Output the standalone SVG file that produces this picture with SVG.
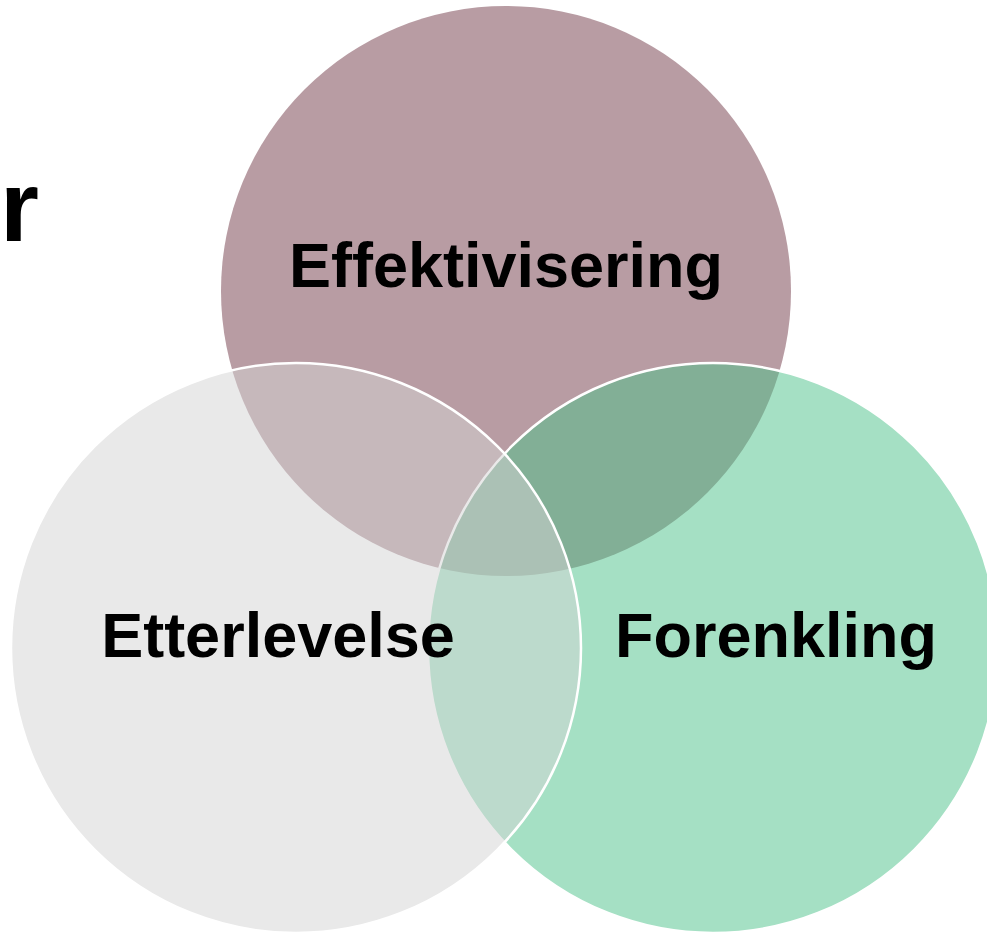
<svg xmlns="http://www.w3.org/2000/svg" width="987" height="934" viewBox="0 0 987 934">
  <style>
    .lbl { font-family: "Liberation Sans", Arial, sans-serif; font-weight: bold; font-size: 63px; fill: #000; text-anchor: middle; }
    .ring { stroke: #ffffff; stroke-width: 2.5; }
  </style>
  <rect width="987" height="934" fill="#ffffff"/>
  <text x="0" y="241" style="font-family: 'Liberation Sans', Arial, sans-serif; font-weight: bold; font-size: 100px; fill: #000;">r</text>
  <g id="effektivisering">
    <circle cx="506" cy="291" r="285" fill="#b89ca3"/>
  </g>
  <g id="forenkling">
    <circle class="ring" cx="713" cy="648" r="285" fill="#4bc189" fill-opacity="0.5"/>
  </g>
  <g id="etterlevelse">
    <circle class="ring" cx="296" cy="648" r="285" fill="#d4d4d4" fill-opacity="0.5"/>
  </g>
  <g id="connectors"></g>
  <g id="labels">
    <text class="lbl" x="506" y="287">Effektivisering</text>
    <text class="lbl" x="278" y="657">Etterlevelse</text>
    <text class="lbl" x="776" y="657">Forenkling</text>
  </g>
</svg>
